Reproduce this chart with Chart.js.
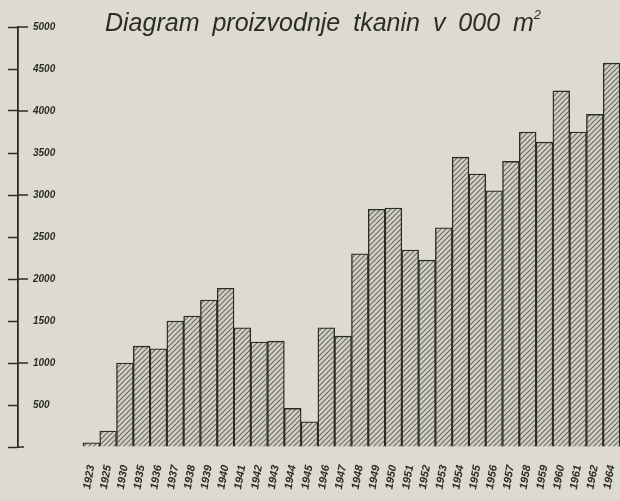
<!DOCTYPE html>
<html>
<head>
<meta charset="utf-8">
<script src="https://cdn.jsdelivr.net/npm/chart.js@4/dist/chart.umd.min.js"></script>
<style>
  body { margin: 0; background: #dddbcf; }
  #wrap { position: relative; width: 620px; height: 501px; }
  #title {
    position: absolute; left: 105px; top: 8px;
    font-family: "Liberation Sans", sans-serif; font-style: italic;
    font-size: 25px; color: #2b2b28; word-spacing: 6px; white-space: nowrap;
  }
  #title sup { font-size: 13px; position: relative; top: -3px; }
</style>
</head>
<body>
<div id="wrap">
  <canvas id="chart" width="620" height="501"></canvas>
  <div id="title">Diagram proizvodnje tkanin v 000 m<sup>2</sup></div>
</div>
<script>
// years as printed under the bars
var years = ['1923', '1925', '1930', '1935', '1936', '1937', '1938', '1939', '1940', '1941',
  '1942', '1943', '1944', '1945', '1946', '1947', '1948', '1949', '1950', '1951',
  '1952', '1953', '1954', '1955', '1956', '1957', '1958', '1959', '1960', '1961',
  '1962', '1964'];
// production, thousand m2
var production = [50, 190, 1000, 1200, 1170, 1500, 1560, 1750, 1890, 1420,
  1250, 1260, 460, 300, 1420, 1320, 2300, 2830, 2845, 2345,
  2225, 2610, 3450, 3250, 3050, 3400, 3750, 3630, 4240, 3750,
  3960, 4570];
var yTicks = [0, 500, 1000, 1500, 2000, 2500, 3000, 3500, 4000, 4500, 5000];
var majorTicks = [0, 1000, 2000, 3000, 4000, 5000];

var ink = '#2b2b28';

// diagonal hatching like the printed bars
function hatch() {
    var s = 5;
    var c = document.createElement('canvas');
    c.width = s; c.height = s;
    var g = c.getContext('2d');
    g.fillStyle = '#d2d0c4';
    g.fillRect(0, 0, s, s);
    g.strokeStyle = '#6b6b63';
    g.lineWidth = 1.1;
    g.beginPath();
    g.moveTo(0, s); g.lineTo(s, 0);
    g.moveTo(-1, 1); g.lineTo(1, -1);
    g.moveTo(s - 1, s + 1); g.lineTo(s + 1, s - 1);
    g.stroke();
    return g.createPattern(c, 'repeat');
}

// long ticks at every thousand cross the axis line
var crossTicks = {
    id: 'crossTicks',
    afterDraw: function (chart) {
        var y = chart.scales.y;
        var ctx = chart.ctx;
        var x0 = chart.chartArea.left;
        ctx.save();
        ctx.strokeStyle = ink;
        ctx.lineWidth = 1.5;
        majorTicks.forEach(function (v) {
            var py = y.getPixelForValue(v);
            ctx.beginPath();
            ctx.moveTo(x0, py);
            ctx.lineTo(x0 + (v == 0 ? 6 : 10), py);
            ctx.stroke();
        });
        ctx.restore();
    }
};

const data = {
    datasets: [{
        data: production.map(function (v, i) { return { x: i, y: v }; }),
        backgroundColor: hatch(),
        borderColor: ink,
        borderWidth: 1.4,
        categoryPercentage: 1,
        barPercentage: 1
    }]
};

const config = {
    type: 'bar',
    data: data,
    options: {
        responsive: false,
        animation: false,
        layout: { padding: { left: 8, right: 0, top: 27, bottom: 0 } },
        plugins: {
            legend: { display: false },
            tooltip: { enabled: false }
        },
        scales: {
            x: {
                type: 'linear',
                min: -4.37,
                max: 31.5,
                offset: false,
                grid: { display: false, drawTicks: false },
                border: { display: false },
                afterBuildTicks: function (axis) {
                    axis.ticks = years.map(function (y, i) { return { value: i }; });
                },
                afterFit: function (axis) {
                    axis.paddingLeft = 0;
                    axis.paddingRight = 0;
                    axis.height = 54;
                },
                ticks: {
                    autoSkip: false,
                    minRotation: 80,
                    maxRotation: 80,
                    padding: 17,
                    color: ink,
                    font: { family: 'Liberation Sans', size: 11, style: 'italic', weight: 'bold' },
                    callback: function (value) { return years[value]; }
                }
            },
            y: {
                min: 0,
                max: 5000,
                afterBuildTicks: function (axis) {
                    axis.ticks = yTicks.map(function (v) { return { value: v }; });
                },
                afterFit: function (axis) {
                    axis.width = 10;
                },
                grid: {
                    drawOnChartArea: false,
                    tickLength: 10,
                    tickWidth: 1.5,
                    tickColor: ink
                },
                border: { display: true, color: ink, width: 1.8 },
                ticks: {
                    mirror: true,
                    padding: 15,
                    color: ink,
                    font: { family: 'Liberation Sans', size: 10, style: 'italic', weight: 'bold' },
                    callback: function (value) { return value == 0 ? '' : value; }
                }
            }
        }
    },
    plugins: [crossTicks]
};

const myChart = new Chart(document.getElementById('chart'), config);
</script>
</body>
</html>
